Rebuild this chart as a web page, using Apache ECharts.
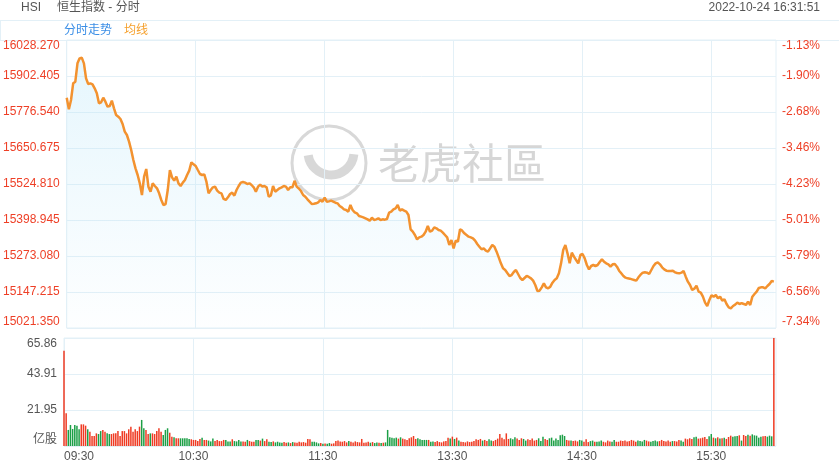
<!DOCTYPE html>
<html><head><meta charset="utf-8">
<script src="https://cdn.jsdelivr.net/npm/echarts@6/dist/echarts.min.js"></script>
<style>html,body{margin:0;padding:0;background:#fff}#c{width:839px;height:469px}</style>
</head><body><div id="c"></div>
<script>
// ---- data ----
const prevClose = 16211.12;
const priceMin = 15021.35;
const priceMax = 16028.27;
const priceStep = 125.865;
const volMax = 65.86;
const sessions = [['09:30', 150], ['13:00', 181]];
const xLabels = ['09:30', '10:30', '11:30', '13:30', '14:30', '15:30'];

const price = [
15826.6,15785.9,15818.5,15876.8,15882.6,15946.7,15964.2,15966.5,15946.7,15894.2,
15874.4,15876.8,15873.3,15859.3,15841.8,15806.8,15810.3,15826.6,15812.7,15795.2,
15797.5,15816.2,15789.4,15766.0,15760.2,15752.1,15734.6,15707.8,15696.1,15672.8,
15643.7,15608.7,15579.6,15556.3,15527.1,15486.3,15550.4,15577.2,15515.5,15498.0,
15527.1,15517.8,15509.6,15492.2,15468.9,15451.4,15454.9,15503.8,15573.7,15548.1,
15536.5,15550.4,15527.1,15517.8,15529.5,15538.8,15556.3,15571.4,15600.6,15593.6,
15587.7,15573.7,15559.8,15556.3,15558.6,15533.0,15492.2,15503.8,15513.2,15515.5,
15501.5,15494.5,15492.2,15472.4,15468.9,15478.2,15489.8,15494.5,15484.0,15503.8,
15517.8,15529.5,15531.8,15529.5,15524.8,15527.1,15521.3,15513.2,15498.0,15515.5,
15522.5,15515.5,15517.8,15513.2,15480.5,15485.2,15517.8,15498.0,15503.8,15509.6,
15513.2,15517.8,15515.5,15503.8,15513.2,15513.2,15536.0,15515.5,15509.0,15500.2,
15486.3,15480.5,15471.2,15463.0,15454.9,15455.6,15457.2,15460.7,15468.9,15463.0,
15477.0,15463.0,15464.1,15466.5,15463.0,15459.5,15457.2,15447.9,15443.2,15436.2,
15433.9,15428.1,15451.4,15433.9,15425.7,15422.3,15412.9,15410.6,15408.3,15404.8,
15401.3,15396.6,15407.1,15398.9,15401.3,15404.8,15398.9,15401.3,15400.2,15402.5,
15424.6,15428.1,15436.2,15439.8,15451.4,15431.6,15436.2,15431.6,15428.1,15416.4,
15366.3,15358.1,15346.5,15331.3,15338.3,15340.7,15346.5,15358.1,15377.9,15358.1,
15361.6,15373.3,15369.8,15364.0,15361.6,15354.7,15346.5,15338.3,15311.5,15329.0,
15299.9,15326.7,15323.2,15366.3,15361.6,15352.3,15346.5,15340.7,15338.3,15334.9,
15326.7,15315.0,15305.7,15296.4,15299.9,15291.7,15288.2,15299.9,15311.5,15305.7,
15288.2,15268.4,15247.4,15229.9,15224.1,15213.6,15203.2,15206.6,15217.1,15224.1,
15210.1,15196.2,15189.2,15196.2,15203.2,15199.7,15195.0,15186.8,15171.7,15150.7,
15151.9,15163.5,15177.5,15163.5,15160.0,15165.9,15179.8,15189.2,15195.0,15212.5,
15247.4,15294.1,15311.5,15282.4,15247.4,15284.7,15270.7,15259.1,15247.4,15276.6,
15280.1,15264.9,15241.6,15226.5,15238.1,15241.6,15238.1,15241.6,15252.1,15261.4,
15253.3,15247.4,15243.9,15235.8,15243.9,15245.1,15235.8,15221.8,15212.5,15203.2,
15197.3,15195.0,15193.8,15191.5,15189.2,15186.8,15198.5,15207.8,15214.8,15216.0,
15214.8,15210.1,15224.1,15238.1,15247.4,15250.9,15243.9,15233.5,15226.5,15221.8,
15220.6,15220.6,15221.8,15216.0,15213.6,15212.5,15214.8,15220.6,15200.8,15183.4,
15171.7,15154.2,15158.9,15169.4,15148.4,15144.9,15130.9,15109.9,15098.3,15119.2,
15135.6,15130.9,15136.7,15125.1,15130.9,15116.9,15121.6,15105.3,15093.6,15090.1,
15098.3,15102.9,15109.9,15105.3,15108.7,15105.3,15101.8,15113.4,15101.8,15130.9,
15140.2,15148.4,15161.2,15163.5,15163.5,15160.0,15168.2,15175.2,15185.7,15183.4
];

const volume = [
58.1,19.9,9.8,12.8,10.4,12.8,12.4,10.2,13.2,13.2,
12.4,10.2,8.7,6.1,6.1,7.7,7.3,9.1,9.8,8.7,
7.7,7.3,7.3,7.7,7.7,9.1,6.1,9.1,9.1,7.7,
10.2,11.8,8.7,10.2,9.1,11.8,15.9,10.8,9.8,7.3,
7.7,7.7,7.3,9.1,10.8,8.7,6.7,9.8,10.8,8.1,
5.7,5.3,4.7,4.7,4.7,4.7,4.7,4.7,4.3,4.1,
3.7,3.7,3.0,4.3,5.1,3.7,3.7,3.3,2.8,4.5,
3.0,3.7,3.0,3.0,3.7,3.7,2.8,2.8,4.1,3.0,
2.8,3.7,2.8,2.8,2.6,3.7,3.0,2.6,2.6,3.7,
3.7,3.3,4.5,3.0,4.1,2.6,2.4,2.8,2.2,2.6,
2.2,2.0,2.4,2.0,2.2,1.8,2.4,2.2,2.0,2.6,
2.2,2.4,2.0,4.3,4.1,2.6,2.6,2.2,1.6,1.8,
1.4,1.6,1.4,1.8,1.4,1.6,3.0,3.3,2.8,2.6,
3.0,2.2,3.0,2.6,2.2,2.8,2.4,2.2,4.3,2.0,
2.2,2.6,2.0,2.4,1.8,2.2,2.0,1.8,2.0,2.2,
9.8,5.3,5.1,4.7,5.1,4.5,5.3,4.5,4.1,3.7,
4.7,5.3,6.1,4.3,4.7,4.1,3.7,3.7,3.7,3.7,
2.6,2.8,2.4,3.0,2.4,2.2,2.8,3.0,5.1,4.5,
5.7,4.3,5.1,3.3,2.6,2.4,2.2,2.8,2.4,2.6,
3.0,4.1,3.7,4.3,3.3,3.7,3.0,4.1,3.3,3.0,
3.7,4.5,7.3,5.1,4.1,7.7,4.3,4.7,4.1,5.3,
4.5,3.7,4.7,4.3,3.3,4.1,3.7,4.5,3.3,3.7,
4.7,3.0,5.7,4.3,3.7,4.7,5.1,3.3,4.5,3.7,
6.5,6.9,6.1,3.7,3.3,3.3,3.0,3.3,2.8,3.7,
3.3,2.6,4.1,2.4,3.0,3.3,2.6,2.6,2.8,3.3,
2.6,2.2,3.3,2.8,2.6,3.7,2.6,2.6,3.3,3.0,
3.3,2.8,3.0,3.7,3.3,2.6,3.3,3.0,2.8,3.7,
3.3,2.8,2.6,3.0,3.3,2.8,3.0,3.7,3.0,2.8,
3.3,2.6,3.0,3.0,2.8,3.7,3.3,2.6,4.5,4.1,
4.7,4.3,5.3,5.7,4.5,4.7,5.1,5.5,4.3,5.9,
7.3,5.1,4.7,5.3,4.5,4.7,5.1,4.3,5.5,6.3,
5.7,5.9,6.1,6.5,3.3,6.7,6.1,6.9,6.3,7.1,
6.5,6.3,5.1,5.7,5.9,6.1,5.7,6.3,5.9,65.86
];

// ---- build categories ----
function pad(n){ return (n < 10 ? '0' : '') + n; }
const times = [];
sessions.forEach(function (s) {
  let hm = s[0].split(':').map(Number), h = hm[0], m = hm[1];
  for (let k = 0; k < s[1]; k++) {
    times.push(pad(h) + ':' + pad(m));
    m++; if (m === 60) { m = 0; h++; }
  }
});

const FONT = '"Liberation Sans", Arial, "Noto Sans CJK SC", sans-serif';
const GRID_COLOR = '#e3f0f7';
const RED = '#ef3b23', GREEN = '#1c9f46';

const chart = echarts.init(document.getElementById('c'));
chart.setOption({
  animation: false,
  backgroundColor: '#fff',
  textStyle: { fontFamily: FONT },
  grid: [
    { left: 64, right: 63, top: 40, height: 288, show: true, borderColor: GRID_COLOR, borderWidth: 1 },
    { left: 64, right: 63, top: 338, height: 108, show: true, borderColor: GRID_COLOR, borderWidth: 1 }
  ],
  xAxis: [
    { type: 'category', gridIndex: 0, data: times, boundaryGap: false,
      axisLine: { show: false }, axisTick: { show: false }, axisLabel: { show: false },
      splitLine: { show: true, interval: function (i, v) { return xLabels.indexOf(v) >= 0; }, lineStyle: { color: GRID_COLOR } } },
    { type: 'category', gridIndex: 1, data: times, boundaryGap: false,
      axisLine: { show: false }, axisTick: { show: false },
      axisLabel: { interval: function (i, v) { return xLabels.indexOf(v) >= 0; }, color: '#555', fontSize: 12, margin: 5, fontFamily: FONT, alignMinLabel: 'left' },
      splitLine: { show: true, interval: function (i, v) { return xLabels.indexOf(v) >= 0; }, lineStyle: { color: GRID_COLOR } } }
  ],
  yAxis: [
    { type: 'value', gridIndex: 0, min: priceMin, max: priceMax, interval: priceStep, position: 'left',
      axisLine: { show: false }, axisTick: { show: false },
      axisLabel: { color: '#ee3f26', fontSize: 12, margin: 7, fontFamily: FONT,
        verticalAlignMinLabel: 'bottom', verticalAlignMaxLabel: 'top',
        formatter: function (v) { return v.toFixed(3); } },
      splitLine: { lineStyle: { color: GRID_COLOR } } },
    { type: 'value', gridIndex: 0, min: priceMin, max: priceMax, interval: priceStep, position: 'right',
      axisLine: { show: false }, axisTick: { show: false },
      axisLabel: { color: '#ee3f26', fontSize: 12, margin: 6, fontFamily: FONT,
        verticalAlignMinLabel: 'bottom', verticalAlignMaxLabel: 'top',
        formatter: function (v) { return ((v / prevClose - 1) * 100).toFixed(2) + '%'; } },
      splitLine: { show: false } },
    { type: 'value', gridIndex: 1, min: 0, max: volMax, interval: volMax / 3,
      axisLine: { show: false }, axisTick: { show: false },
      axisLabel: { color: '#555', fontSize: 12, margin: 7, fontFamily: FONT,
        verticalAlignMinLabel: 'bottom', verticalAlignMaxLabel: 'top',
        formatter: function (v) { return v === 0 ? '亿股' : v.toFixed(2); } },
      splitLine: { lineStyle: { color: GRID_COLOR } } }
  ],
  graphic: [
    { type: 'line', shape: { x1: 0, y1: 20.5, x2: 839, y2: 20.5 }, style: { stroke: GRID_COLOR, lineWidth: 1 } },
    { type: 'line', shape: { x1: 0, y1: 40.5, x2: 839, y2: 40.5 }, style: { stroke: GRID_COLOR, lineWidth: 1 } },
    { type: 'line', shape: { x1: 0.5, y1: 20, x2: 0.5, y2: 40 }, style: { stroke: GRID_COLOR, lineWidth: 1 } },
    { type: 'text', x: 21, y: 8, style: { text: 'HSI', fill: '#555', font: '12px ' + FONT, verticalAlign: 'middle' } },
    { type: 'text', x: 57, y: 8, style: { text: '恒生指数 - 分时', fill: '#555', font: '12px ' + FONT, verticalAlign: 'middle' } },
    { type: 'text', x: 820, y: 8, style: { text: '2022-10-24 16:31:51', fill: '#555', font: '12px ' + FONT, align: 'right', verticalAlign: 'middle' } },
    { type: 'text', x: 64, y: 30.5, style: { text: '分时走势', fill: '#3a8ee6', font: '12px ' + FONT, verticalAlign: 'middle' } },
    { type: 'text', x: 124, y: 30.5, style: { text: '均线', fill: '#f5a02c', font: '12px ' + FONT, verticalAlign: 'middle' } },
    { type: 'circle', z: -1, shape: { cx: 329, cy: 163, r: 37 }, style: { stroke: '#d8d8d8', fill: null, lineWidth: 3 } },
    { type: 'arc', z: -1, shape: { cx: 331, cy: 152, r: 23, startAngle: 0.1, endAngle: 3.0, clockwise: true }, style: { stroke: '#d8d8d8', fill: null, lineWidth: 9 } },
    { type: 'text', z: -1, x: 378, y: 163, style: { text: '老虎社區', fill: '#d6d6d6', font: '42px "Noto Sans CJK SC"', verticalAlign: 'middle' } }
  ],
  series: [
    { type: 'line', xAxisIndex: 0, yAxisIndex: 0, data: price, showSymbol: false, z: 3,
      lineStyle: { color: '#f3922f', width: 2.5 },
      areaStyle: { origin: 'start', color: new echarts.graphic.LinearGradient(0, 0, 0, 1, [
        { offset: 0, color: 'rgba(190,232,250,0.55)' }, { offset: 1, color: 'rgba(190,232,250,0.04)' }]) } },
    { type: 'bar', xAxisIndex: 1, yAxisIndex: 2, data: volume, barWidth: 1.5,
      itemStyle: { color: function (p) {
        const i = p.dataIndex;
        const prev = i === 0 ? prevClose : price[i - 1];
        return price[i] > prev ? GREEN : RED;
      } } }
  ]
});
</script></body></html>
